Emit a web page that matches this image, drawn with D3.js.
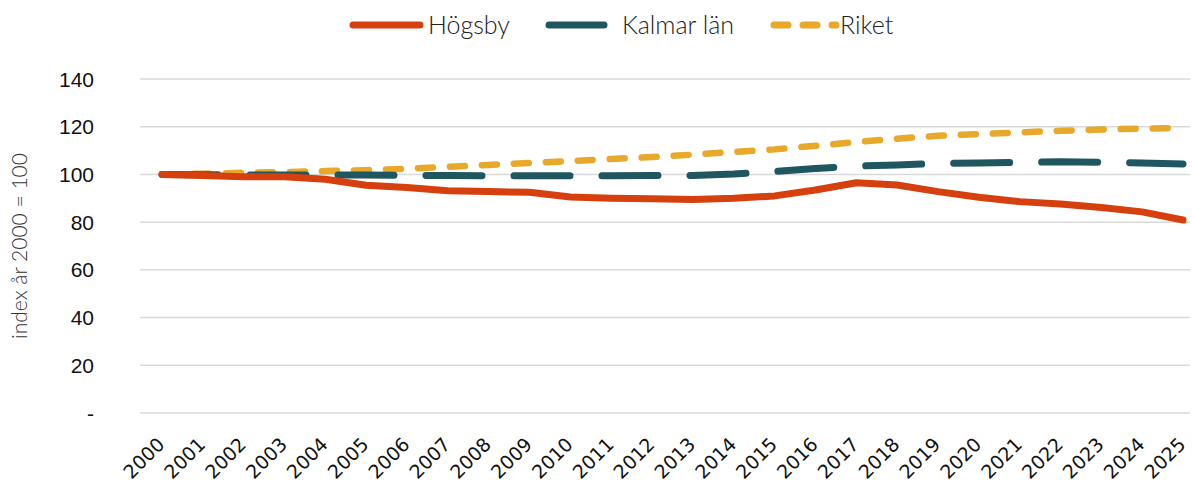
<!DOCTYPE html>
<html>
<head>
<meta charset="utf-8">
<script src="https://cdn.jsdelivr.net/npm/d3@7"></script>
<style>
  body { margin: 0; background: #fff; }
  svg { display: block; }
</style>
</head>
<body>
<div id="chart"></div>
<script>
var years = d3.range(2000, 2026);
var hogsby = [100, 99.5, 99, 99, 98, 95.5, 94.5, 93.2, 92.8, 92.5, 90.5, 90, 89.8, 89.5, 90, 91, 93.5, 96.5, 95.6, 92.8, 90.4, 88.6, 87.6, 86.1, 84.3, 80.9];
var kalmar = [100, 99.9, 99.8, 99.8, 99.8, 99.8, 99.6, 99.5, 99.4, 99.4, 99.4, 99.4, 99.5, 99.6, 100.2, 101.2, 102.5, 103.5, 104, 104.6, 104.8, 105, 105.3, 105.1, 104.8, 104.4];
var riket = [100, 100.3, 100.7, 101, 101.4, 101.8, 102.4, 103.2, 104, 104.8, 105.6, 106.5, 107.3, 108.3, 109.4, 110.5, 112, 113.6, 115, 116.2, 116.9, 117.6, 118.3, 118.8, 119.2, 119.5];
var yTicks = [0, 20, 40, 60, 80, 100, 120, 140];
var seriesNames = ["Högsby", "Kalmar län", "Riket"];

var width = 1192, height = 484;
var svg = d3.select("#chart").append("svg")
    .attr("width", width)
    .attr("height", height);

var x = d3.scaleLinear().domain([2000, 2025]).range([162, 1183]);
var y = d3.scaleLinear().domain([0, 140]).range([413, 79]);

// grid
svg.append("g")
  .selectAll("line")
  .data(yTicks)
  .enter().append("line")
    .attr("x1", 140).attr("x2", 1190)
    .attr("y1", d => y(d)).attr("y2", d => y(d))
    .attr("stroke", "#d9d9d9")
    .attr("stroke-width", 1.5);

// y labels
svg.append("g")
  .selectAll("text")
  .data(yTicks)
  .enter().append("text")
    .attr("x", 94)
    .attr("y", d => y(d) + 7.5)
    .attr("text-anchor", "end")
    .attr("font-family", "Liberation Sans, Arial, sans-serif")
    .attr("font-size", 21)
    .attr("fill", "#111")
    .text(d => d === 0 ? "-" : d);

svg.append("text")
  .attr("transform", "translate(27,246) rotate(-90)")
  .attr("text-anchor", "middle")
  .attr("font-family", "Lato, sans-serif")
  .attr("font-weight", 300)
  .attr("font-size", 21)
  .attr("fill", "#333")
  .text("index år 2000 = 100");

// x labels
svg.append("g")
  .selectAll("text")
  .data(years)
  .enter().append("text")
    .attr("transform", d => "translate(" + (x(d) - 1) + ",441) rotate(-45)")
    .attr("text-anchor", "end")
    .attr("dy", "0.35em")
    .attr("font-family", "DejaVu Sans, sans-serif")
    .attr("font-size", 19)
    .attr("fill", "#111")
    .text(d => d);

var line = d3.line()
    .x((d, i) => x(years[i]))
    .y(d => y(d));

svg.append("path")
  .attr("d", line(riket))
  .attr("fill", "none")
  .attr("stroke", "#E8A82A")
  .attr("stroke-width", 6.5)
  .attr("stroke-linecap", "round")
  .attr("stroke-dasharray", "15,17");

svg.append("path")
  .attr("d", line(kalmar))
  .attr("fill", "none")
  .attr("stroke", "#1F5660")
  .attr("stroke-width", 7)
  .attr("stroke-linecap", "round")
  .attr("stroke-dasharray", "56,32");

svg.append("path")
  .attr("d", line(hogsby))
  .attr("fill", "none")
  .attr("stroke", "#D5400E")
  .attr("stroke-width", 7)
  .attr("stroke-linecap", "round")
  .attr("stroke-linejoin", "round");

// legend
var lg = svg.append("g").attr("font-family", "Lato, sans-serif").attr("font-weight", 300).attr("font-size", 25).attr("fill", "#222");
lg.append("line").attr("x1", 353).attr("x2", 420).attr("y1", 25).attr("y2", 25)
  .attr("stroke", "#D5400E").attr("stroke-width", 7).attr("stroke-linecap", "round");
lg.append("text").attr("x", 428).attr("y", 34).text(seriesNames[0]);
lg.append("line").attr("x1", 549).attr("x2", 604).attr("y1", 25).attr("y2", 25)
  .attr("stroke", "#1F5660").attr("stroke-width", 7).attr("stroke-linecap", "round");
lg.append("text").attr("x", 622).attr("y", 34).text(seriesNames[1]);
lg.append("line").attr("x1", 774).attr("x2", 836).attr("y1", 25).attr("y2", 25)
  .attr("stroke", "#E8A82A").attr("stroke-width", 7).attr("stroke-linecap", "round")
  .attr("stroke-dasharray", "14,15");
lg.append("text").attr("x", 840).attr("y", 34).text(seriesNames[2]);
</script>
</body>
</html>
